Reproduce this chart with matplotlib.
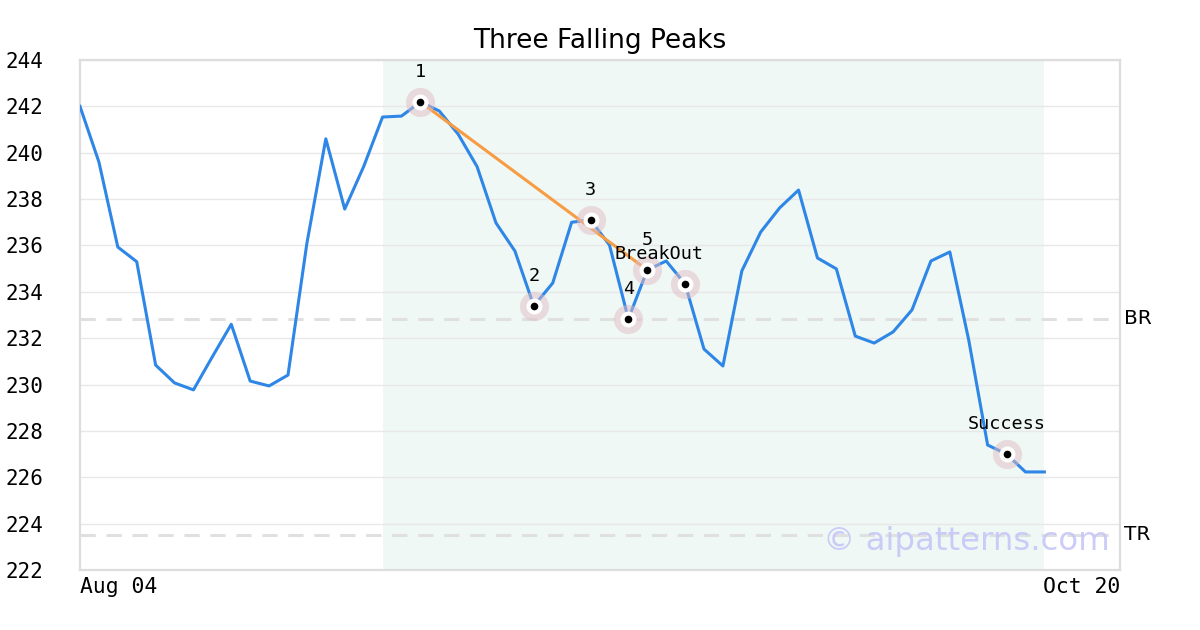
import matplotlib
matplotlib.use("Agg")
import matplotlib.pyplot as plt
import matplotlib.transforms as mtransforms

# ---- data ----
x_labels = ["Aug 04", "Oct 20"]
n_slots = 56  # business days from Aug 04 to Oct 20
prices = [242.0, 239.6, 235.93, 235.3, 230.84, 230.07, 229.77, 231.2, 232.6, 230.15,
          229.94, 230.41, 236.1, 240.6, 237.57, 239.4, 241.54, 241.58, 242.19, 241.8,
          240.8, 239.4, 236.97, 235.76, 233.39, 234.38, 237.0, 237.1, 236.02, 232.83,
          234.94, 235.33, 234.34, 231.53, 230.8, 234.9, 236.58, 237.62, 238.39, 235.46,
          234.99, 232.09, 231.79, 232.27, 233.22, 235.33, 235.72, 231.92, 227.39, 227.0,
          226.23, 226.23]
point_idx = [18, 24, 27, 29, 30, 32, 49]
point_labels = ["1", "2", "3", "4", "5", "BreakOut", "Success"]
trend_idx = [18, 30]
shade_range = [16, 51]
br_level = 232.83
tr_level = 223.51
y_ticks = list(range(222, 245, 2))

fig = plt.figure(figsize=(12, 6.3), dpi=100)
ax = fig.add_axes([80/1200, 60/630, 1040/1200, 510/630])

xs = list(range(len(prices)))
ax.axvspan(shade_range[0], shade_range[1], color="#eff8f4", zorder=0, lw=0)
for yt in y_ticks:
    ax.axhline(yt, color="#e8e8e8", lw=1, zorder=1)
ax.axhline(br_level, color="#e0e0e0", lw=2.2, ls=(0, (5, 3.5)), zorder=2)
ax.axhline(tr_level, color="#e0e0e0", lw=2.2, ls=(0, (5, 3.5)), zorder=2)

ax.plot(xs, prices, color="#2e86e6", lw=2.2, zorder=3)
ax.plot(trend_idx, [prices[i] for i in trend_idx], color="#f89c44", lw=2.2, zorder=4)

px = point_idx
py = [prices[i] for i in point_idx]
ax.scatter(px, py, s=21**2, color="#e0bcc6", alpha=0.5, lw=0, zorder=5)
ax.scatter(px, py, s=11.5**2, color="white", lw=0, zorder=6)
ax.scatter(px, py, s=5.5**2, color="black", lw=0, zorder=7)

for i, lab in zip(point_idx, point_labels):
    dx = -19 if lab == "BreakOut" else 0
    ax.annotate(lab, (i, prices[i]), xytext=(dx, 21.5), textcoords="offset points",
                ha="center", va="center", family="DejaVu Sans Mono", fontsize=13.3,
                zorder=8)

ax.set_xlim(0, n_slots - 1)
ax.set_ylim(222, 244)
ax.set_yticks(y_ticks)
ax.set_yticklabels([str(v) for v in y_ticks], family="DejaVu Sans Mono", fontsize=15)
ax.set_xticks([0, n_slots - 1])
ax.set_xticklabels(x_labels, family="DejaVu Sans Mono", fontsize=15.4)
xl = ax.get_xticklabels()
xl[0].set_ha("left")
xl[1].set_ha("right")
ax.tick_params(axis="both", length=0)
ax.tick_params(axis="y", pad=26.5)
ax.tick_params(axis="x", pad=5)

for s in ax.spines.values():
    s.set_color("#dddddd")
    s.set_linewidth(1.6)

trans = mtransforms.blended_transform_factory(ax.transAxes, ax.transData)
ax.text(1.004, br_level, "BR", transform=trans, ha="left", va="center", fontsize=14.5,
        family="DejaVu Sans")
ax.text(1.004, tr_level, "TR", transform=trans, ha="left", va="center", fontsize=14.5,
        family="DejaVu Sans")

ax.text(0.99, 0.055, "© aipatterns.com", transform=ax.transAxes, ha="right", va="center",
        fontsize=23.3, color="#c4c4f8", alpha=0.85, zorder=9)

ax.set_title("Three Falling Peaks", fontsize=19, pad=9, family="DejaVu Sans")

fig.savefig("out.png", dpi=100)
